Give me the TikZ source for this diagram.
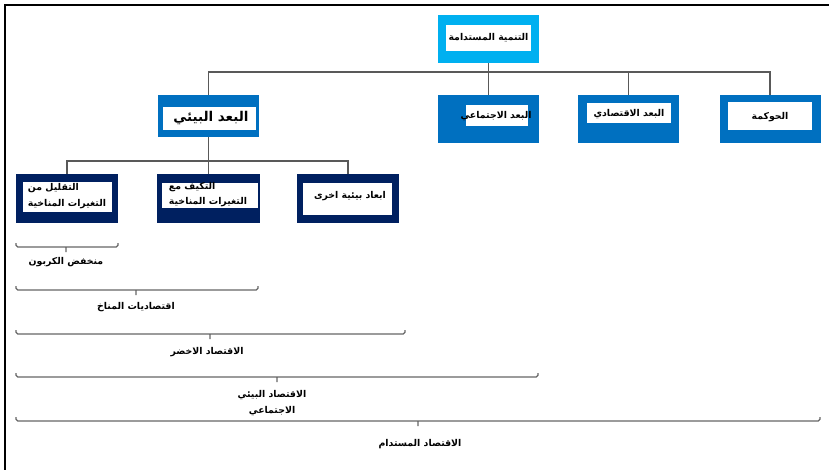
\documentclass[tikz,border=0pt]{standalone}
\usepackage{fontspec}
\usetikzlibrary{positioning}
\TeXXeTstate=1
\newfontfamily\arabicfont[Script=Arabic]{DejaVu Sans}
\newcommand{\artext}[1]{{\arabicfont\bfseries\beginR #1\endR}}
\definecolor{skyblue}{RGB}{0,176,240}
\definecolor{midblue}{RGB}{0,112,192}
\definecolor{darknavy}{RGB}{0,32,96}
\tikzset{
  outerbox/.style={fill=#1, inner sep=0pt, minimum width=3.03cm, minimum height=1.44cm},
  innerbox/.style={fill=white, inner sep=0pt},
  tag/.style={inner sep=0pt, font=\fontsize{8}{13.5}\selectfont, align=center},
  link/.style={draw=black!65, line width=1pt},
  brace/.style={draw=black!60, line width=1.2pt, rounded corners=1.5pt}
}

\begin{document}
\begin{tikzpicture}[x=0.03cm, y=-0.03cm]
  \useasboundingbox (0,0) rectangle (829,470);
  \draw[line width=2.2pt] (5,470) -- (5,5) -- (829,5);

  \node[outerbox=skyblue] (top) at (488.5,39) {};
  \node[innerbox, minimum width=2.55cm, minimum height=0.78cm] (topin) at (488.5,38) {};
  \node[tag] (toptxt) at (488.5,38) {\artext{التنمية المستدامة}};

  \node[outerbox=midblue, minimum height=1.26cm] (env) at (208.5,116) {};
  \node[innerbox, minimum width=2.79cm, minimum height=0.69cm] (envin) at (209.5,118.5) {};
  \node[tag, font=\fontsize{11.5}{13}\selectfont] (envtxt) at (211,118) {\artext{البعد البيئي}};

  \node[outerbox=midblue] (soc) at (488.5,119) {};
  \node[innerbox, minimum width=1.86cm, minimum height=0.63cm] (socin) at (497,115.5) {};
  \node[tag] (soctxt) at (496,116.5) {\artext{البعد الاجتماعي}};

  \node[outerbox=midblue] (eco) at (628.5,119) {};
  \node[innerbox, minimum width=2.52cm, minimum height=0.6cm] (ecoin) at (629,113) {};
  \node[tag] (ecotxt) at (629,114) {\artext{البعد الاقتصادي}};

  \node[outerbox=midblue] (gov) at (770,119) {};
  \node[innerbox, minimum width=2.52cm, minimum height=0.84cm] (govin) at (770,116) {};
  \node[tag] (govtxt) at (770,117) {\artext{الحوكمة}};

  \node[outerbox=darknavy, minimum width=3.06cm, minimum height=1.47cm] (cut) at (67,198.5) {};
  \node[innerbox, minimum width=2.67cm, minimum height=0.9cm] (cutin) at (67.5,197) {};
  \node[tag, align=left] (cuttxt) at (67,196) {\artext{التقليل من}\\\artext{التغيرات المناخية}};

  \node[outerbox=darknavy, minimum width=3.06cm, minimum height=1.47cm] (adapt) at (208.5,198.5) {};
  \node[innerbox, minimum width=2.85cm, minimum height=0.75cm] (adaptin) at (210,195.5) {};
  \node[tag, align=left] (adapttxt) at (208,194.5) {\artext{التكيف مع}\\\artext{التغيرات المناخية}};

  \node[outerbox=darknavy, minimum width=3.06cm, minimum height=1.47cm] (other) at (348,198.5) {};
  \node[innerbox, minimum width=2.67cm, minimum height=0.96cm] (otherin) at (347.5,199) {};
  \node[tag] (othertxt) at (350,196) {\artext{ابعاد بيئية اخرى}};

  \coordinate (hub) at (488.5,72);
  \coordinate (subhub) at (208.5,161);
  \draw[link] (top.south) -- (soc.north);
  \draw[link] (hub) -| (env.north);
  \draw[link] (hub) -| (eco.north);
  \draw[link] (hub) -| (gov.north);
  \draw[link] (env.south) -- (adapt.north);
  \draw[link] (subhub) -| (cut.north);
  \draw[link] (subhub) -| (other.north);

  \foreach \y/\r/\m in {247/118/66, 290/258/136, 334/405/210, 377/538/277, 421/820/418}
    \draw[brace] (16,\y-4) -- (16,\y) -- (\r,\y) -- (\r,\y-4) (\m,\y) -- (\m,\y+5);

  \node[tag] (lowcarbon) at (66,262) {\artext{منخفض الكربون}};
  \node[tag] (climecon) at (136,307) {\artext{اقتصاديات المناخ}};
  \node[tag] (greenecon) at (207,352) {\artext{الاقتصاد الاخضر}};
  \node[tag] (socenv) at (272,403) {\artext{الاقتصاد البيئي}\\\artext{الاجتماعي}};
  \node[tag] (susecon) at (420,444) {\artext{الاقتصاد المستدام}};
\end{tikzpicture}
\end{document}
